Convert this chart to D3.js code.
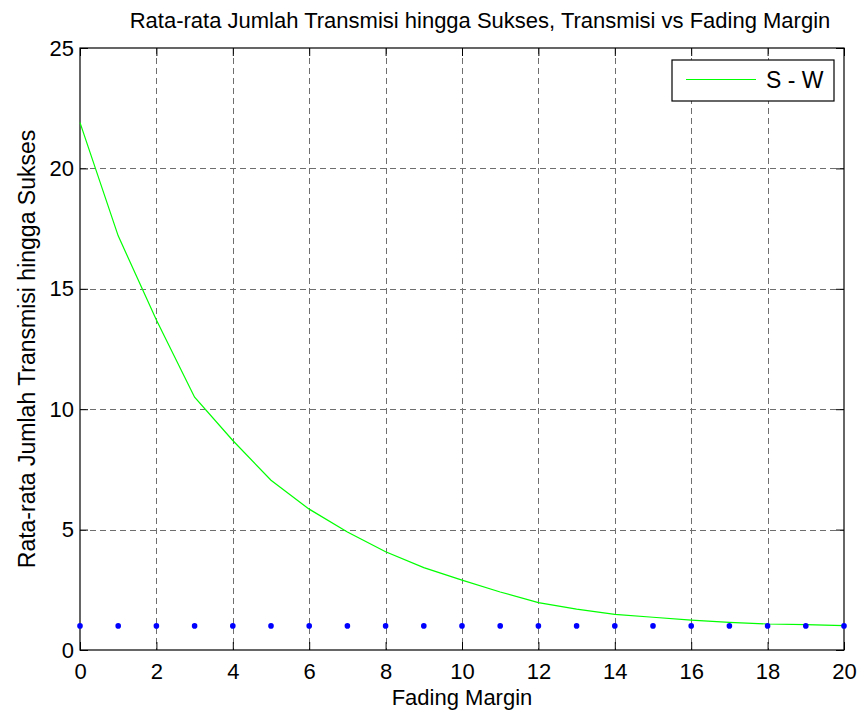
<!DOCTYPE html>
<html>
<head>
<meta charset="utf-8">
<script src="https://cdn.jsdelivr.net/npm/d3@7"></script>
<style>
  html, body { margin: 0; padding: 0; background: #fff; }
  svg { display: block; }
  text { font-family: "Liberation Sans", Arial, Helvetica, sans-serif; fill: #000; }
</style>
</head>
<body>
<script>
const fadingMargin = [0,1,2,3,4,5,6,7,8,9,10,11,12,13,14,15,16,17,18,19,20];
const swValues = [21.9,17.2,13.7,10.5,8.7,7.05,5.85,4.9,4.08,3.42,2.9,2.41,1.97,1.70,1.48,1.36,1.24,1.15,1.08,1.05,1.01];
const dotValues = [1,1,1,1,1,1,1,1,1,1,1,1,1,1,1,1,1,1,1,1,1];
const xTicks = [0,2,4,6,8,10,12,14,16,18,20];
const yTicks = [0,5,10,15,20,25];
const titleText = "Rata-rata Jumlah Transmisi hingga Sukses, Transmisi vs Fading Margin";
const xLabelText = "Fading Margin";
const yLabelText = "Rata-rata Jumlah Transmisi hingga Sukses";
const legendLabel = "S - W";

const W = 861, H = 715;
const m = {left: 80, right: 17, top: 48, bottom: 65};
const svg = d3.select("body").append("svg").attr("width", W).attr("height", H);

const x = d3.scaleLinear().domain([0, 20]).range([m.left, W - m.right]);
const y = d3.scaleLinear().domain([0, 25]).range([H - m.bottom, m.top]);

const fs = 22;

// grid
const grid = svg.append("g").attr("stroke", "#6e6e6e").attr("stroke-width", 1).attr("stroke-dasharray", "6,4");
xTicks.slice(1, -1).forEach(t => {
  grid.append("line").attr("x1", Math.round(x(t)) + 0.5).attr("x2", Math.round(x(t)) + 0.5)
    .attr("y1", y(25)).attr("y2", y(0));
});
yTicks.slice(1, -1).forEach(t => {
  grid.append("line").attr("y1", Math.round(y(t)) + 0.5).attr("y2", Math.round(y(t)) + 0.5)
    .attr("x1", x(0)).attr("x2", x(20));
});

// axes (bottom & left with labels, top & right ticks only)
const tickLen = 8;
const axB = svg.append("g").attr("transform", `translate(0,${y(0)})`)
  .call(d3.axisBottom(x).tickValues(xTicks).tickSizeInner(-tickLen).tickSizeOuter(0).tickPadding(13));
const axT = svg.append("g").attr("transform", `translate(0,${y(25)})`)
  .call(d3.axisTop(x).tickValues(xTicks).tickSizeInner(-tickLen).tickSizeOuter(0).tickFormat(""));
const axL = svg.append("g").attr("transform", `translate(${x(0)},0)`)
  .call(d3.axisLeft(y).tickValues(yTicks).tickSizeInner(-tickLen).tickSizeOuter(0).tickPadding(6));
const axR = svg.append("g").attr("transform", `translate(${x(20)},0)`)
  .call(d3.axisRight(y).tickValues(yTicks).tickSizeInner(-tickLen).tickSizeOuter(0).tickFormat(""));
[axB, axT, axL, axR].forEach(a => {
  a.select(".domain").remove();
  a.selectAll("line").attr("stroke", "#000");
  a.selectAll("text").attr("font-size", fs).attr("font-family", "Liberation Sans, Arial, sans-serif").attr("fill", "#000");
});

// box
svg.append("rect").attr("x", x(0)).attr("y", y(25)).attr("width", x(20) - x(0)).attr("height", y(0) - y(25))
  .attr("fill", "none").attr("stroke", "#000").attr("stroke-width", 1.2);

// data
const line = d3.line().x((d, i) => x(fadingMargin[i])).y(d => y(d));
svg.append("path").datum(swValues).attr("d", line).attr("fill", "none").attr("stroke", "#00ff00").attr("stroke-width", 1.2);

svg.append("g").selectAll("circle").data(dotValues).join("circle")
  .attr("cx", (d, i) => x(fadingMargin[i])).attr("cy", d => y(d)).attr("r", 2.8).attr("fill", "#0000ff");

// title and labels
svg.append("text").attr("x", (x(0) + x(20)) / 2 + 18).attr("y", 28).attr("text-anchor", "middle")
  .attr("font-size", 22).text(titleText);
svg.append("text").attr("x", (x(0) + x(20)) / 2).attr("y", 705).attr("text-anchor", "middle")
  .attr("font-size", fs).text(xLabelText);
svg.append("text").attr("transform", `translate(35,${(y(0) + y(25)) / 2}) rotate(-90)`).attr("text-anchor", "middle")
  .attr("font-size", fs + 1).text(yLabelText);

// legend
const lg = svg.append("g");
lg.append("rect").attr("x", 672).attr("y", 60).attr("width", 162).attr("height", 41)
  .attr("fill", "#fff").attr("stroke", "#000").attr("stroke-width", 1.2);
lg.append("line").attr("x1", 686).attr("x2", 756).attr("y1", 79.5).attr("y2", 79.5)
  .attr("stroke", "#00ff00").attr("stroke-width", 1.2);
lg.append("text").attr("x", 766).attr("y", 88).attr("font-size", fs + 1).text(legendLabel);
</script>
</body>
</html>
